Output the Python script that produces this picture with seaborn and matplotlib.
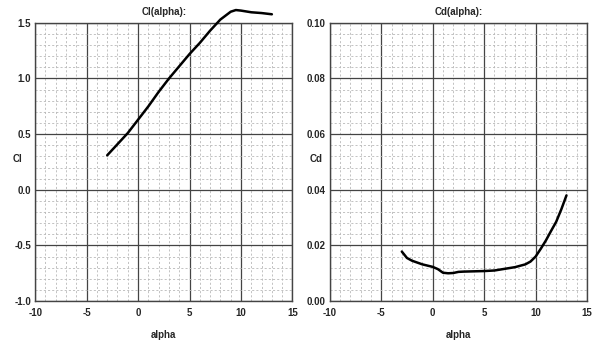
import matplotlib

matplotlib.use("Agg")

import matplotlib.pyplot as plt
import pandas as pd
import seaborn as sns
from matplotlib.ticker import FormatStrFormatter, MultipleLocator

# polar data
CL_ALPHA = [-3, -2, -1, 0, 1, 2, 3, 4, 5, 6, 7, 8, 8.5, 9, 9.5, 10, 11, 12, 13]
CL_VALUES = [0.31, 0.41, 0.51, 0.63, 0.75, 0.88, 1.00, 1.11, 1.22, 1.32, 1.43,
             1.53, 1.565, 1.60, 1.615, 1.61, 1.595, 1.588, 1.577]

CD_ALPHA = [-3, -2.5, -2, -1, 0, 0.5, 1, 1.5, 2, 2.5, 3, 4, 5, 6, 7, 8, 9,
            9.5, 10, 10.5, 11, 11.5, 12, 12.5, 13]
CD_VALUES = [0.0178, 0.0155, 0.0145, 0.0132, 0.0123, 0.0115, 0.0102, 0.0100,
             0.0101, 0.0105, 0.0106, 0.0107, 0.0108, 0.0110, 0.0116, 0.0122,
             0.0132, 0.0142, 0.0160, 0.0188, 0.0218, 0.0252, 0.0285, 0.0330, 0.0380]


def setup_style() -> None:
    sns.set_theme(style="white")
    plt.rcParams["font.family"] = ["Liberation Sans", "DejaVu Sans"]
    plt.rcParams["font.weight"] = "bold"
    plt.rcParams["font.size"] = 7
    plt.rcParams["axes.unicode_minus"] = False


def draw_panel(ax, data, ycol, title, ylim, major_y, fmt, ylabel_x):
    sns.lineplot(data=data, x="alpha", y=ycol, ax=ax, color="black",
                 linewidth=1.8, clip_on=False, zorder=5)
    ax.set_xlim(-10, 15)
    ax.set_ylim(*ylim)
    ax.xaxis.set_major_locator(MultipleLocator(5))
    ax.xaxis.set_minor_locator(MultipleLocator(1))
    ax.yaxis.set_major_locator(MultipleLocator(major_y))
    ax.yaxis.set_minor_locator(MultipleLocator(major_y / 5))
    ax.yaxis.set_major_formatter(FormatStrFormatter(fmt))
    ax.grid(which="major", color="#444444", linewidth=0.9, linestyle="-")
    ax.grid(which="minor", color="#b8b8b8", linewidth=0.6, linestyle=(0, (2.5, 2.5)))
    ax.tick_params(which="both", length=0, labelsize=7)
    ax.tick_params(axis="x", pad=5)
    ax.tick_params(axis="y", pad=3)
    for spine in ax.spines.values():
        spine.set_color("#444444")
        spine.set_linewidth(1.0)
    ax.set_title(title, fontsize=7, fontweight="bold", pad=6)
    ax.set_xlabel("alpha", fontsize=7, fontweight="bold")
    ax.set_ylabel(ycol, fontsize=7, fontweight="bold", rotation=0, ha="center", va="center")
    ax.xaxis.set_label_coords(0.5, -0.105)
    ax.yaxis.set_label_coords(ylabel_x, 0.51)


def main() -> int:
    setup_style()
    cl = pd.DataFrame({"alpha": CL_ALPHA, "Cl": CL_VALUES})
    cd = pd.DataFrame({"alpha": CD_ALPHA, "Cd": CD_VALUES})

    fig, axes = plt.subplots(1, 2, figsize=(5.96, 3.41), dpi=100)
    fig.subplots_adjust(left=0.059, right=0.985, top=0.933, bottom=0.117, wspace=0.145)

    draw_panel(axes[0], cl, "Cl", "Cl(alpha):", (-1.0, 1.5), 0.5, "%.1f", -0.07)
    draw_panel(axes[1], cd, "Cd", "Cd(alpha):", (0.0, 0.1), 0.02, "%.2f", -0.055)

    fig.savefig("out.png", dpi=100)
    plt.close(fig)
    return 0


if __name__ == "__main__":
    raise SystemExit(main())
